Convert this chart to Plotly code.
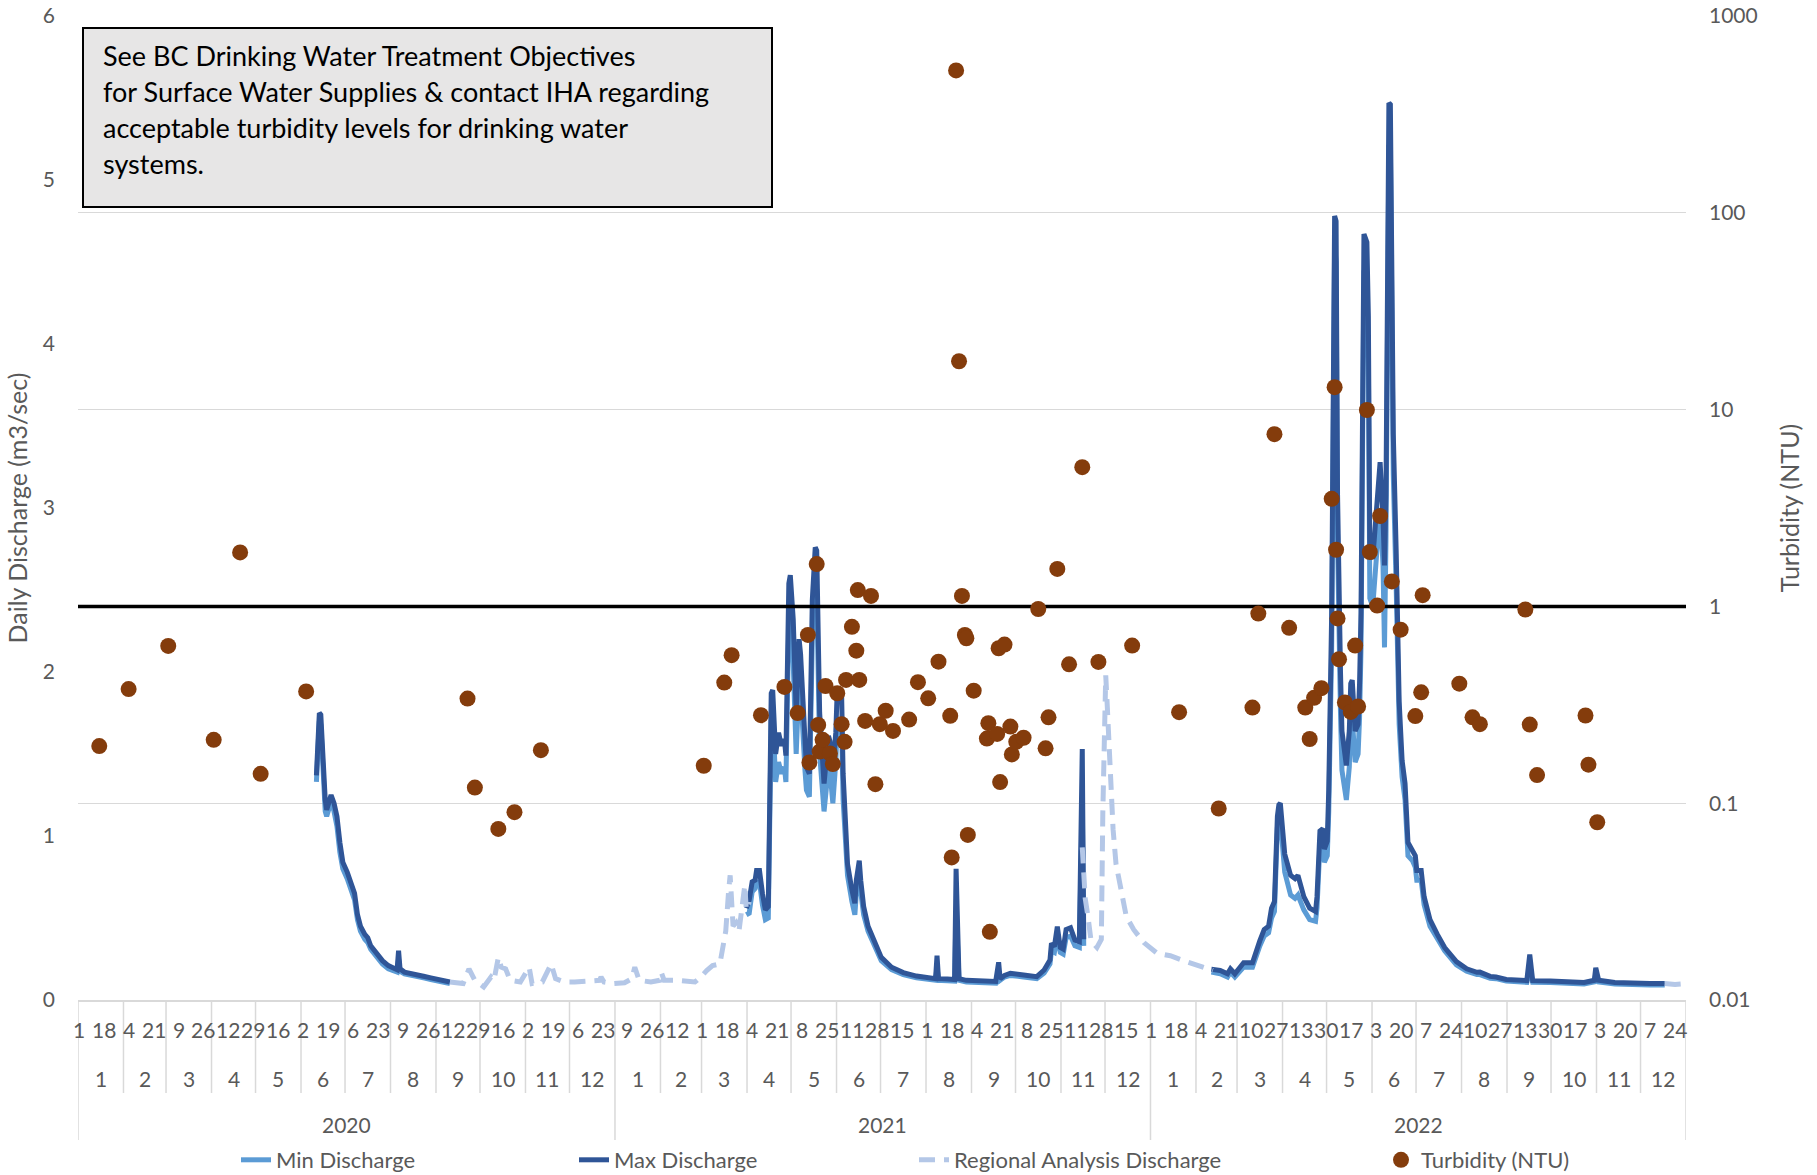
import plotly.graph_objects as go
import pandas as pd

# ---------------- DATA ----------------
# Max discharge (m3/sec), three observed periods
max_a_dates = ["2020-06-11","2020-06-13","2020-06-14","2020-06-15","2020-06-17","2020-06-18","2020-06-20","2020-06-21",
               "2020-06-23","2020-06-25","2020-06-27","2020-06-29","2020-07-02","2020-07-05","2020-07-07","2020-07-09",
               "2020-07-11","2020-07-14","2020-07-16","2020-07-18","2020-07-22","2020-07-26","2020-07-30","2020-08-03",
               "2020-08-05","2020-08-06","2020-08-07","2020-08-10","2020-08-14","2020-08-18","2020-08-23","2020-08-28",
               "2020-09-01","2020-09-05","2020-09-10"]
max_a_vals = [1.37,1.75,1.74,1.55,1.22,1.16,1.22,1.25,1.20,1.12,0.96,0.84,0.78,0.70,0.65,0.52,
              0.45,0.40,0.38,0.33,0.28,0.24,0.21,0.19,0.185,0.30,0.19,0.17,0.16,0.15,0.145,0.135,
              0.125,0.118,0.11]
min_a_vals = [1.33,1.70,1.68,1.48,1.15,1.12,1.18,1.21,1.15,1.06,0.90,0.80,0.74,0.66,0.61,0.49,
              0.42,0.37,0.35,0.31,0.26,0.22,0.19,0.175,0.17,0.25,0.175,0.16,0.15,0.14,0.135,0.125,
              0.117,0.11,0.10]

max_b_dates = ["2021-03-31","2021-04-02","2021-04-04","2021-04-06","2021-04-07","2021-04-09","2021-04-11","2021-04-13",
               "2021-04-15","2021-04-17","2021-04-18","2021-04-20","2021-04-22","2021-04-24","2021-04-26","2021-04-27",
               "2021-04-29","2021-04-30","2021-05-02","2021-05-04","2021-05-06","2021-05-07","2021-05-10","2021-05-11",
               "2021-05-13","2021-05-15","2021-05-17","2021-05-18","2021-05-20","2021-05-22","2021-05-23","2021-05-26",
               "2021-05-27","2021-05-29","2021-05-31","2021-06-01","2021-06-04","2021-06-05","2021-06-07","2021-06-08",
               "2021-06-11","2021-06-13","2021-06-14","2021-06-16","2021-06-17","2021-06-19","2021-06-22","2021-06-27",
               "2021-07-01","2021-07-08","2021-07-16","2021-07-25","2021-08-05","2021-08-07","2021-08-08","2021-08-09",
               "2021-08-15","2021-08-20","2021-08-21","2021-08-23","2021-08-28","2021-09-02","2021-09-11","2021-09-17",
               "2021-09-19","2021-09-20","2021-09-23","2021-09-27","2021-10-06","2021-10-15","2021-10-20","2021-10-24",
               "2021-10-25","2021-10-27","2021-10-29","2021-10-31","2021-11-02","2021-11-04","2021-11-07","2021-11-10",
               "2021-11-13","2021-11-15","2021-11-16"]
max_b_vals = [0.56,0.61,0.72,0.73,0.79,0.79,0.65,0.55,
              0.57,1.87,1.89,1.50,1.63,1.55,1.59,1.49,
              2.54,2.59,2.32,1.75,2.20,2.11,1.59,1.42,
              1.38,2.44,2.76,2.74,1.75,1.42,1.32,1.61,
              1.58,1.40,1.63,1.89,1.85,1.38,1.04,0.83,
              0.67,0.59,0.73,0.85,0.73,0.57,0.45,0.35,
              0.26,0.20,0.167,0.146,0.132,0.13,0.27,0.13,
              0.128,0.125,0.80,0.13,0.12,0.118,0.112,0.113,
              0.23,0.13,0.15,0.163,0.152,0.142,0.183,0.244,
              0.346,0.325,0.447,0.32,0.31,0.43,0.44,0.366,
              0.356,1.53,0.37]
min_b_vals = [0.52,0.53,0.66,0.68,0.72,0.72,0.58,0.49,
              0.50,1.70,1.75,1.33,1.45,1.38,1.42,1.33,
              2.30,2.40,2.05,1.50,1.95,1.90,1.40,1.28,
              1.24,2.20,2.55,2.50,1.50,1.25,1.15,1.42,
              1.40,1.20,1.45,1.70,1.65,1.22,0.95,0.76,
              0.60,0.52,0.65,0.76,0.66,0.52,0.42,0.32,
              0.24,0.185,0.155,0.135,0.122,0.12,0.20,0.12,
              0.118,0.115,0.55,0.12,0.11,0.108,0.102,0.103,
              0.18,0.12,0.14,0.15,0.14,0.13,0.165,0.22,
              0.30,0.29,0.39,0.29,0.28,0.38,0.39,0.33,
              0.32,1.20,0.33]

max_c_dates = ["2022-02-11","2022-02-17","2022-02-22","2022-02-24","2022-02-27","2022-03-05","2022-03-11","2022-03-14",
               "2022-03-16","2022-03-19","2022-03-22","2022-03-24","2022-03-26","2022-03-28","2022-03-29","2022-03-30",
               "2022-04-01","2022-04-02","2022-04-06","2022-04-09","2022-04-11","2022-04-15","2022-04-19","2022-04-23",
               "2022-04-24","2022-04-26","2022-04-28","2022-04-29","2022-05-01","2022-05-02","2022-05-04","2022-05-05",
               "2022-05-06","2022-05-07","2022-05-08","2022-05-10","2022-05-11","2022-05-14","2022-05-16","2022-05-17",
               "2022-05-18","2022-05-20","2022-05-22","2022-05-23","2022-05-24","2022-05-26","2022-05-28","2022-05-29",
               "2022-05-30","2022-06-01","2022-06-03","2022-06-05","2022-06-06","2022-06-08","2022-06-09","2022-06-10",
               "2022-06-11","2022-06-12","2022-06-13","2022-06-14","2022-06-15","2022-06-17","2022-06-19","2022-06-21",
               "2022-06-23","2022-06-25","2022-06-28","2022-06-30","2022-07-01","2022-07-04","2022-07-06","2022-07-10",
               "2022-07-15","2022-07-20","2022-07-28","2022-08-04","2022-08-11","2022-08-13","2022-08-20","2022-08-24",
               "2022-08-31","2022-09-14","2022-09-16","2022-09-18","2022-09-30","2022-10-23","2022-10-30","2022-10-31",
               "2022-11-02","2022-11-13","2022-12-07","2022-12-17"]
max_c_vals = [0.187,0.18,0.16,0.19,0.16,0.227,0.227,0.32,
              0.36,0.43,0.45,0.56,0.60,1.12,1.19,1.20,
              0.92,0.89,0.76,0.74,0.76,0.63,0.56,0.54,
              0.63,1.03,1.045,0.92,0.97,1.28,2.36,4.24,
              4.78,4.75,3.08,2.00,1.64,1.43,1.64,1.93,
              1.95,1.64,1.68,1.93,2.36,4.67,4.62,4.17,
              2.72,2.69,2.94,3.23,3.28,2.94,2.65,3.08,
              4.71,5.47,5.46,3.81,3.45,2.72,1.82,1.46,
              1.32,0.96,0.92,0.88,0.79,0.79,0.63,0.49,
              0.40,0.32,0.234,0.19,0.169,0.17,0.144,0.14,
              0.125,0.118,0.277,0.118,0.116,0.107,0.12,0.197,
              0.12,0.107,0.10,0.10]
min_c_vals = [0.17,0.16,0.14,0.17,0.14,0.20,0.20,0.29,
              0.33,0.39,0.41,0.50,0.54,1.05,1.12,1.10,
              0.82,0.78,0.64,0.62,0.64,0.55,0.49,0.48,
              0.56,0.95,0.97,0.84,0.88,1.15,2.15,4.00,
              4.60,4.50,2.80,1.75,1.40,1.22,1.42,1.70,
              1.72,1.45,1.50,1.72,2.15,4.45,4.40,3.90,
              2.45,2.40,2.65,2.95,3.00,2.65,2.15,2.80,
              4.40,5.20,5.20,3.55,3.20,2.50,1.68,1.36,
              1.22,0.88,0.85,0.81,0.73,0.73,0.58,0.45,
              0.37,0.30,0.215,0.175,0.155,0.155,0.133,0.13,
              0.115,0.108,0.20,0.108,0.106,0.098,0.11,0.16,
              0.11,0.098,0.092,0.092]

# Regional analysis discharge (m3/sec), periods without gauge data
reg_a_dates = ["2020-09-10","2020-09-19","2020-09-23","2020-09-25","2020-09-27","2020-10-03","2020-10-08","2020-10-10",
               "2020-10-13","2020-10-15","2020-10-18","2020-10-21","2020-10-28","2020-11-03","2020-11-05","2020-11-12",
               "2020-11-18","2020-11-21","2020-11-27","2020-12-04","2020-12-13","2020-12-21","2020-12-22","2020-12-24",
               "2020-12-31","2021-01-07","2021-01-12","2021-01-14","2021-01-17","2021-01-25","2021-01-31","2021-02-01",
               "2021-02-03","2021-02-12","2021-02-24","2021-02-28","2021-03-04","2021-03-08","2021-03-13","2021-03-16",
               "2021-03-17","2021-03-19","2021-03-20","2021-03-22","2021-03-24","2021-03-26","2021-03-29","2021-03-30",
               "2021-03-31","2021-04-02"]
reg_a_vals = [0.11,0.10,0.19,0.15,0.12,0.08,0.14,0.12,
              0.26,0.20,0.19,0.12,0.11,0.20,0.10,0.11,
              0.22,0.13,0.11,0.11,0.112,0.12,0.14,0.11,
              0.10,0.105,0.13,0.20,0.12,0.11,0.12,0.17,
              0.12,0.12,0.11,0.14,0.18,0.21,0.22,0.35,
              0.42,0.67,0.76,0.45,0.47,0.42,0.67,0.70,
              0.55,0.60]
reg_b_dates = ["2021-11-15","2021-11-17","2021-11-19","2021-11-21","2021-11-25","2021-11-28","2021-11-29","2021-11-30",
               "2021-12-01","2021-12-02","2021-12-04","2021-12-06","2021-12-08","2021-12-12","2021-12-15","2021-12-20",
               "2021-12-27","2022-01-05","2022-01-14","2022-01-23","2022-02-01","2022-02-07","2022-02-12"]
reg_b_vals = [0.93,0.62,0.50,0.36,0.32,0.37,1.14,1.85,
              1.98,1.80,1.34,1.04,0.83,0.63,0.51,0.43,
              0.35,0.285,0.27,0.24,0.21,0.19,0.18]
reg_c_dates = ["2022-12-17","2022-12-24","2022-12-31"]
reg_c_vals = [0.10,0.095,0.10]

# Turbidity grab samples (NTU)
turb_dates = ["2020-01-15","2020-02-04","2020-03-02","2020-04-02","2020-04-20","2020-05-04","2020-06-04","2020-09-22",
              "2020-09-27","2020-10-13","2020-10-24","2020-11-11",
              "2021-03-02","2021-03-16","2021-03-21","2021-04-10","2021-04-26","2021-05-05","2021-05-12","2021-05-13",
              "2021-05-18","2021-05-19","2021-05-20","2021-05-22","2021-05-24","2021-05-27","2021-05-29","2021-06-01",
              "2021-06-04","2021-06-06","2021-06-07","2021-06-11","2021-06-14","2021-06-15","2021-06-16","2021-06-20",
              "2021-06-24","2021-06-27","2021-06-30","2021-07-04","2021-07-09","2021-07-20","2021-07-26","2021-08-02",
              "2021-08-09","2021-08-17","2021-08-18","2021-08-21","2021-08-23","2021-08-25","2021-08-27","2021-08-28",
              "2021-08-29","2021-09-02","2021-09-11","2021-09-12","2021-09-13","2021-09-18","2021-09-19","2021-09-20",
              "2021-09-23","2021-09-27","2021-09-28","2021-10-01","2021-10-06","2021-10-16","2021-10-21","2021-10-23",
              "2021-10-29","2021-11-06","2021-11-15","2021-11-26","2021-12-19",
              "2022-01-20","2022-02-16","2022-03-11","2022-03-15","2022-03-26","2022-04-05","2022-04-16","2022-04-19",
              "2022-04-22","2022-04-27","2022-05-04","2022-05-06","2022-05-07","2022-05-08","2022-05-09","2022-05-13",
              "2022-05-17","2022-05-20","2022-05-22","2022-05-28","2022-05-30","2022-06-04","2022-06-06","2022-06-14",
              "2022-06-20","2022-06-30","2022-07-04","2022-07-05","2022-07-30","2022-08-08","2022-08-13","2022-09-13",
              "2022-09-16","2022-09-21","2022-10-24","2022-10-26","2022-11-01"]
turb_vals = [0.195,0.38,0.63,0.21,1.88,0.141,0.37,0.34,
             0.12,0.074,0.09,0.186,
             0.155,0.41,0.565,0.28,0.39,0.287,0.716,0.161,
             1.64,0.25,0.183,0.21,0.394,0.179,0.158,0.362,
             0.252,0.205,0.423,0.787,0.596,1.21,0.423,0.262,
             1.13,0.125,0.252,0.295,0.233,0.266,0.412,0.341,
             0.524,0.278,0.053,529,17.6,1.13,0.716,0.689,
             0.069,0.373,0.213,0.255,0.0222,0.225,0.613,0.128,
             0.64,0.245,0.177,0.205,0.215,0.97,0.19,0.273,
             1.55,0.508,5.1,0.522,0.632,
             0.29,0.094,0.306,0.919,7.5,0.778,0.306,0.212,
             0.343,0.384,3.52,13.0,1.94,0.869,0.539,0.325,
             0.291,0.632,0.31,9.95,1.89,1.01,2.88,1.34,
             0.762,0.277,0.366,1.14,0.405,0.273,0.252,0.964,
             0.251,0.139,0.279,0.157,0.08]

threshold_ntu = 1.0
right_ticks = [0.01, 0.1, 1, 10, 100, 1000]
right_tick_text = ["0.01", "0.1", "1", "10", "100", "1000"]
note_lines = ["See BC Drinking Water Treatment Objectives",
              "for Surface Water Supplies & contact IHA regarding",
              "acceptable turbidity levels for drinking water",
              "systems."]

# ---------------- helpers ----------------
def join(*segs):
    xs, ys = [], []
    for i, (d, v) in enumerate(segs):
        if i:
            xs.append(None); ys.append(None)
        xs += d; ys += v
    return xs, ys

W, H = 1817, 1175
ML, MR, MT, MB = 78, 131, 16, 175
PW, PH = W - ML - MR, H - MT - MB
def xp(px): return (px - ML) / PW
def yp(py): return (H - MB - py) / PH

FONT = "Lato, 'Open Sans', sans-serif"
GREY = "#595959"
GRID = "#D9D9D9"

start = pd.Timestamp("2020-01-01")
end = pd.Timestamp("2022-12-31")
half = pd.Timedelta(hours=12)
x_range = [str(start - half), str(end + half)]

fig = go.Figure()

mx, my = join((max_a_dates, max_a_vals), (max_b_dates, max_b_vals), (max_c_dates, max_c_vals))
nx, ny = join((max_a_dates, min_a_vals), (max_b_dates, min_b_vals), (max_c_dates, min_c_vals))
rx, ry = join((reg_a_dates, reg_a_vals), (reg_b_dates, reg_b_vals), (reg_c_dates, reg_c_vals))

fig.add_trace(go.Scatter(x=nx, y=ny, mode="lines", name="Min Discharge", legend="legend",
                         line=dict(color="#5B9BD5", width=5), connectgaps=False))
fig.add_trace(go.Scatter(x=mx, y=my, mode="lines", name="Max Discharge", legend="legend2",
                         line=dict(color="#2F5597", width=5), connectgaps=False))
fig.add_trace(go.Scatter(x=rx, y=ry, mode="lines", name="Regional Analysis Discharge", legend="legend3",
                         line=dict(color="#B4C7E7", width=5, dash="16px,9px"), connectgaps=False))
fig.add_trace(go.Scatter(x=[x_range[0], x_range[1]], y=[threshold_ntu, threshold_ntu], yaxis="y2",
                         mode="lines", line=dict(color="black", width=3.5), showlegend=False,
                         hoverinfo="skip", cliponaxis=False))
fig.add_trace(go.Scatter(x=turb_dates, y=turb_vals, yaxis="y2", mode="markers", name="Turbidity (NTU)",
                         legend="legend4", marker=dict(color="#843C0C", size=16, symbol="circle")))

# ---------------- multi-level category axis ----------------
annotations = []
shapes = []
days = pd.date_range(start, end, freq="D")
for d in days[::17]:
    annotations.append(dict(x=d.strftime("%Y-%m-%d"), y=yp(1029), xref="x", yref="paper", text=str(d.day),
                            showarrow=False, font=dict(family=FONT, size=21, color=GREY),
                            xanchor="center", yanchor="middle"))
month_starts = pd.date_range(start, end, freq="MS")
for ms in month_starts:
    me = ms + pd.offsets.MonthEnd(0)
    center = (ms - half) + ((me + half) - (ms - half)) / 2
    annotations.append(dict(x=str(center), y=yp(1078), xref="x", yref="paper", text=str(ms.month),
                            showarrow=False, font=dict(family=FONT, size=21, color=GREY),
                            xanchor="center", yanchor="middle"))
    year_edge = ms.month == 1
    shapes.append(dict(type="line", xref="x", yref="paper", x0=str(ms - half), x1=str(ms - half),
                       y0=0, y1=yp(1140) if year_edge else yp(1093), line=dict(color=GRID, width=1.5)))
shapes.append(dict(type="line", xref="x", yref="paper", x0=x_range[1], x1=x_range[1],
                   y0=0, y1=yp(1140), line=dict(color=GRID, width=1.5)))
for yr in [2020, 2021, 2022]:
    ys_, ye_ = pd.Timestamp(f"{yr}-01-01") - half, pd.Timestamp(f"{yr}-12-31") + half
    annotations.append(dict(x=str(ys_ + (ye_ - ys_) / 2), y=yp(1124), xref="x", yref="paper", text=str(yr),
                            showarrow=False, font=dict(family=FONT, size=21, color=GREY),
                            xanchor="center", yanchor="middle"))

# note box
shapes.append(dict(type="rect", xref="paper", yref="paper", x0=xp(83), x1=xp(772), y0=yp(207), y1=yp(28),
                   fillcolor="#E7E6E6", line=dict(color="black", width=2), layer="above"))
for i, ln in enumerate(note_lines):
    annotations.append(dict(x=xp(101), y=yp(55.6 + 35.9 * i), xref="paper", yref="paper", text=ln,
                            showarrow=False, xanchor="left", yanchor="middle",
                            font=dict(family=FONT, size=27, color="black")))

leg_common = dict(orientation="h", yanchor="middle", y=yp(1160), xanchor="left",
                  font=dict(family=FONT, size=22, color=GREY), bgcolor="rgba(0,0,0,0)", borderwidth=0)

fig.update_layout(
    width=W, height=H,
    margin=dict(l=ML, r=MR, t=MT, b=MB, autoexpand=False),
    paper_bgcolor="white", plot_bgcolor="white",
    font=dict(family=FONT, color=GREY),
    xaxis=dict(type="date", range=x_range, showticklabels=False, showgrid=False, zeroline=False,
               showline=True, linecolor=GRID, linewidth=1.5, ticks=""),
    yaxis=dict(range=[0, 6], dtick=1, showgrid=False, zeroline=False, ticks="",
               ticklabelstandoff=22, tickfont=dict(family=FONT, size=21, color=GREY),
               title=dict(text="Daily Discharge (m3/sec)", standoff=8,
                          font=dict(family=FONT, size=25, color=GREY))),
    yaxis2=dict(type="log", range=[-2, 3], overlaying="y", side="right", tickmode="array",
                tickvals=right_ticks, ticktext=right_tick_text, showgrid=True, gridcolor=GRID, gridwidth=1.3,
                zeroline=False, ticks="", ticklabelstandoff=22,
                tickfont=dict(family=FONT, size=21, color=GREY),
                title=dict(text="Turbidity (NTU)", standoff=24,
                           font=dict(family=FONT, size=25, color=GREY))),
    legend=dict(x=xp(276 - 40), **leg_common),
    legend2=dict(x=xp(614 - 40), **leg_common),
    legend3=dict(x=xp(954 - 40), **leg_common),
    legend4=dict(x=xp(1421 - 40), **leg_common),
    annotations=annotations,
    shapes=shapes,
    showlegend=True,
)

fig.write_html("out.html")
